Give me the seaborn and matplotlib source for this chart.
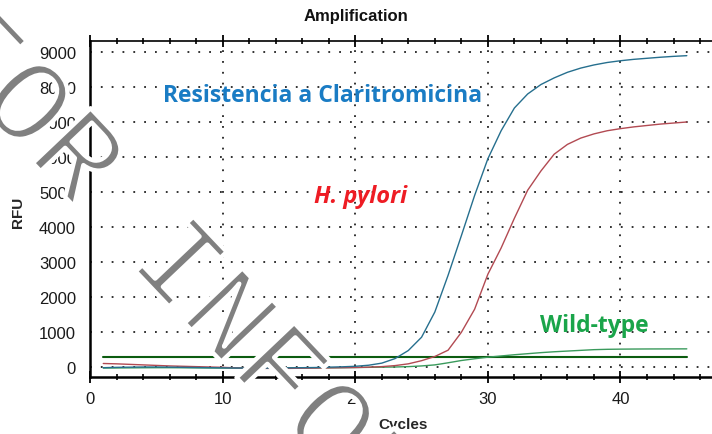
import numpy as np
import pandas as pd
import matplotlib
matplotlib.use("Agg")
import matplotlib.pyplot as plt
import matplotlib.patheffects as pe
from matplotlib.ticker import MultipleLocator
import seaborn as sns

# Amplification run: RFU per cycle for each target
cycles = list(range(1, 46))

rfu_resistencia = [-20, -10, -5, 0, 0, -5, -10, -15, -20, -25,
                   -30, -30, -30, -30, -25, -20, -15, -5, 5, 20,
                   50, 110, 240, 470, 850, 1570, 2620, 3750, 4900, 5950,
                   6750, 7400, 7800, 8070, 8260, 8420, 8540, 8630, 8700, 8750,
                   8790, 8820, 8850, 8875, 8895]

rfu_hpylori = [100, 90, 75, 60, 45, 30, 20, 10, 0, -10,
               -25, -35, -40, -40, -40, -35, -30, -25, -20, -15,
               -5, 10, 40, 90, 180, 300, 480, 990, 1650, 2650,
               3400, 4250, 5050, 5600, 6080, 6360, 6540, 6660, 6750, 6810,
               6860, 6900, 6940, 6970, 7000]

rfu_wildtype = [-30, -28, -25, -22, -20, -20, -22, -25, -28, -30,
                -30, -30, -30, -30, -28, -26, -24, -22, -20, -15,
                -10, -5, 0, 10, 30, 60, 120, 185, 235, 280,
                315, 350, 380, 410, 435, 455, 475, 495, 505, 510,
                513, 515, 516, 517, 518]

threshold = 276

x_ticks = [0, 10, 20, 30, 40]
y_ticks = [0, 1000, 2000, 3000, 4000, 5000, 6000, 7000, 8000, 9000]

df = pd.DataFrame({
    "Cycle": cycles,
    "Resistencia": rfu_resistencia,
    "H. pylori": rfu_hpylori,
    "Wild-type": rfu_wildtype,
    "Threshold": [threshold] * len(cycles),
})

sns.set_theme(style="white")
plt.rcParams["font.family"] = ["Liberation Sans", "DejaVu Sans"]

W, H = 712, 435
fig = plt.figure(figsize=(W / 100, H / 100), dpi=100)
ax = fig.add_axes([90 / W, 57 / H, (712 - 90) / W, (378 - 42) / H])

sns.lineplot(data=df, x="Cycle", y="Threshold", color="#0c5c10", linewidth=1.5, ax=ax)
sns.lineplot(data=df, x="Cycle", y="Wild-type", color="#3a9a5c", linewidth=1.0, ax=ax)
sns.lineplot(data=df, x="Cycle", y="H. pylori", color="#b24a52", linewidth=1.0, ax=ax)
sns.lineplot(data=df, x="Cycle", y="Resistencia", color="#266f8e", linewidth=1.0, ax=ax)

ax.set_xlim(0, 46.9)
ax.set_ylim(-286, 9314)
ax.set_xticks(x_ticks)
ax.set_yticks(y_ticks)
ax.xaxis.set_minor_locator(MultipleLocator(2))
ax.yaxis.set_minor_locator(MultipleLocator(200))

ax.grid(True, which="major", color="#222222", linestyle=(0, (1, 5)), linewidth=1.3)

for side in ("left", "bottom"):
    ax.spines[side].set_linewidth(1.8)
    ax.spines[side].set_color("black")
ax.spines["top"].set_linewidth(1.2)
ax.spines["top"].set_color("black")
ax.spines["right"].set_visible(False)

ax.tick_params(axis="both", which="major", direction="inout", length=8, width=1.3,
               color="black", labelsize=12, labelcolor="#1a1a1a", pad=6)
ax.tick_params(axis="both", which="minor", direction="inout", length=5, width=1.2,
               color="black")
ax.tick_params(axis="x", which="both", top=True, bottom=True)

ax.set_xlabel("Cycles", fontsize=11, fontweight="bold", va="center")
ax.set_ylabel("RFU", fontsize=11, fontweight="bold", va="center")
ax.xaxis.set_label_coords((403 - 90) / 622, -(425 - 378) / 336)
ax.yaxis.set_label_coords(-(90 - 18) / 622, (378 - 212) / 336)

fig.text(356 / W, 1 - 17 / H, "Amplification", ha="center", va="center",
         fontsize=12, fontweight="bold", color="#111111")

ax.text(17.56, 7771, "Resistencia a Claritromicina", ha="center", va="center",
        fontsize=16.5, fontweight="bold", color="#1a7cc4", family="Open Sans")
ax.text(20.4, 4886, "H. pylori", ha="center", va="center", fontsize=17,
        fontweight="bold", style="italic", color="#ee1c24", family="Open Sans")
ax.text(38.06, 1200, "Wild-type", ha="center", va="center", fontsize=16.5,
        fontweight="bold", color="#1aa54a", family="Open Sans")

# diagonal watermark: monospaced letters stepped along a 46.5-degree line
wm_text = "FOR INFORMATION"
wm_angle = np.deg2rad(46.5)
ux, uy = np.cos(wm_angle), np.sin(wm_angle)      # reading direction (pixels, y down)
vx, vy = np.sin(wm_angle), -np.cos(wm_angle)     # letter "up" direction
step, half_cap = 73.5, 35.0
ox, oy = 26.0, 106.0                              # centre of the first "O"
thin = [pe.Normal(), pe.Stroke(linewidth=3.2, foreground="white")]
for k, ch in enumerate(wm_text):
    if ch == " ":
        continue
    cx = ox + (k - 1) * step * ux - half_cap * vx
    cy = oy + (k - 1) * step * uy - half_cap * vy
    fig.text(cx / W, 1 - cy / H, ch, rotation=-46.5, rotation_mode="anchor",
             ha="center", va="baseline", fontsize=87, color="#808080",
             family="Liberation Mono", zorder=10, path_effects=thin)

fig.savefig("out.png", dpi=100)
